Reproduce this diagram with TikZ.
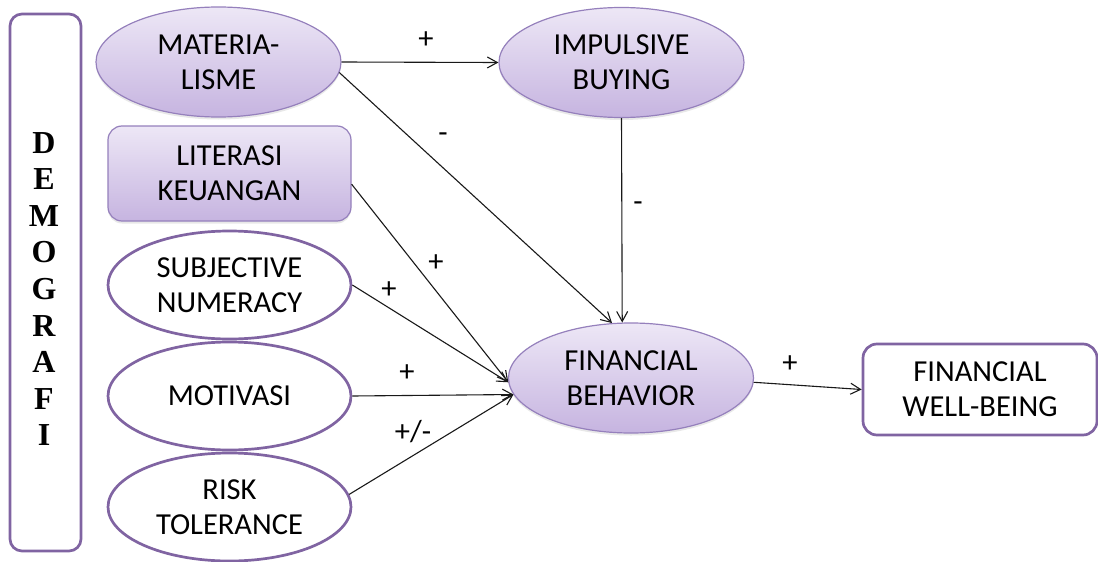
\documentclass[tikz,border=0pt]{standalone}
\usepackage{fontspec}
\setmainfont{Carlito}
\newfontfamily\timesb{Liberation Serif}
\usetikzlibrary{shapes.geometric,arrows.meta,shadows}
\definecolor{purp}{HTML}{8064A2}
\definecolor{lavtop}{HTML}{EDE7F6}
\definecolor{lavbot}{HTML}{C6B4E0}
\definecolor{lavline}{HTML}{9580BC}
\begin{document}
\begin{tikzpicture}[x=1pt,y=-1pt,
  lbl/.style={font=\fontsize{30.5}{35}\selectfont, align=center, text=black},
  filledell/.style={ellipse, lbl, draw=lavline, line width=1.2pt, top color=lavtop, bottom color=lavbot,
     minimum width=245, minimum height=110, inner sep=0pt,
     drop shadow={opacity=0.18, shadow xshift=0pt, shadow yshift=-2.5pt}},
  filledbox/.style={rectangle, rounded corners=14pt, lbl, draw=lavline, line width=1.2pt, top color=lavtop, bottom color=lavbot,
     minimum width=243, minimum height=95, inner sep=0pt,
     drop shadow={opacity=0.18, shadow xshift=0pt, shadow yshift=-2.5pt}},
  openell/.style={ellipse, lbl, draw=purp, line width=2.7pt, fill=white,
     minimum width=243, minimum height=108, inner sep=0pt},
  openbox/.style={rectangle, rounded corners=14pt, lbl, draw=purp, line width=2.7pt, fill=white,
     minimum width=234, minimum height=91, inner sep=0pt},
  conn/.style={draw=black!90, line width=1.1pt, -{Straight Barb[length=10pt,width=11pt,line width=1.1pt]}},
  sign/.style={lbl, inner sep=0pt}
]
\useasboundingbox (0,0) rectangle (1098,562);

% DEMOGRAFI column
\node[rectangle, rounded corners=12pt, draw=purp, line width=2.7pt, fill=white,
      minimum width=71, minimum height=537, inner sep=0pt] (demo) at (45.5,282.5) {};
\node[align=center, inner sep=0pt, font=\timesb\bfseries\fontsize{32}{36.6}\selectfont] (demotext) at (44,289)
  {D\\E\\M\\O\\G\\R\\A\\F\\I};

% Constructs
\node[filledell] (mat) at (218.5,62) {MATERIA-\\LISME};
\node[filledbox] (lit) at (229.5,173.5) {LITERASI\\KEUANGAN};
\node[openell] (subj) at (229.5,285) {SUBJECTIVE\\NUMERACY};
\node[openell] (mot) at (229.5,396) {MOTIVASI};
\node[openell] (risk) at (229.5,507) {RISK\\TOLERANCE};
\node[filledell] (imp) at (621.5,62.5) {IMPULSIVE\\BUYING};
\node[filledell] (fb) at (631,378) {FINANCIAL\\BEHAVIOR};
\node[openbox] (fwb) at (980,389.5) {FINANCIAL\\WELL-BEING};

% Connectors
\draw[conn] (mat.east) -- (imp.west);
\draw[conn] (mat.-5) -- (fb.109);
\draw[conn] (imp.south) -- (fb.99);
\draw[conn] (lit.-5) -- (fb.182);
\draw[conn] (subj.east) -- (fb.182);
\draw[conn] (mot.east) -- (fb.188);
\draw[conn] (risk.6) -- (fb.188);
\draw[conn] (fb.-2) -- (fwb.west);

% Signs
\node[sign] (s1) at (426,40) {+};
\node[sign] (s2) at (443,138) {-};
\node[sign] (s3) at (638,207) {-};
\node[sign] (s4) at (436,263) {+};
\node[sign] (s5) at (389,290) {+};
\node[sign] (s6) at (407,373) {+};
\node[sign] (s7) at (413,432) {+/-};
\node[sign] (s8) at (790,364) {+};
\end{tikzpicture}
\end{document}
